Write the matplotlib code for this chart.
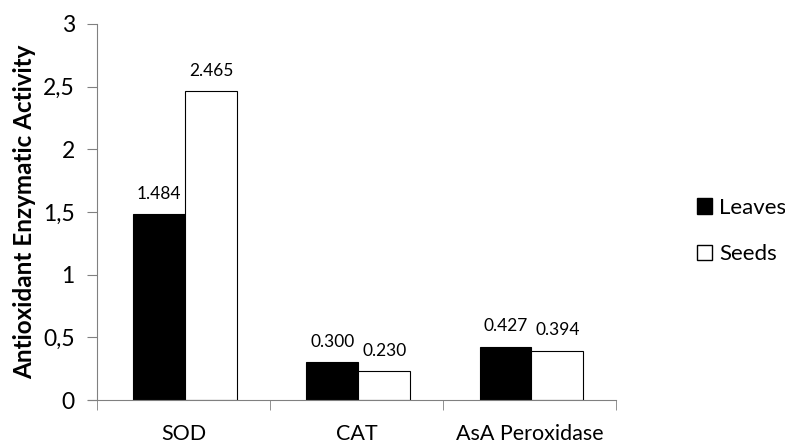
import matplotlib.pyplot as plt
import numpy as np
from matplotlib.patches import Patch

categories = ['SOD', 'CAT', 'AsA Peroxidase']
leaves = [1.484, 0.300, 0.427]
seeds = [2.465, 0.230, 0.394]
yticks = [0, 0.5, 1, 1.5, 2, 2.5, 3]
ytick_labels = ['0', '0,5', '1', '1,5', '2', '2,5', '3']

plt.rcParams['font.family'] = ['Lato', 'DejaVu Sans']

fig = plt.figure(figsize=(7.85, 4.44), dpi=100)
ax = fig.add_axes([0.1236, 0.099, 0.785 - 0.1236, 0.847])

x = np.arange(len(categories))
w = 0.3
b1 = ax.bar(x - w / 2 + 0.01, leaves, w, color='black', edgecolor='black', linewidth=0.8, label='Leaves')
b2 = ax.bar(x + w / 2 + 0.01, seeds, w, color='white', edgecolor='black', linewidth=0.8, label='Seeds')

for bars, vals in ((b1, leaves), (b2, seeds)):
    for r, v in zip(bars, vals):
        ax.annotate('{:.3f}'.format(v), (r.get_x() + r.get_width() / 2, v),
                    xytext=(0, 9), textcoords='offset points',
                    ha='center', va='bottom', fontsize=12.5)

ax.set_xlim(-0.5, 2.5)
ax.set_ylim(0, 3)
ax.set_yticks(yticks)
ax.set_yticklabels(ytick_labels, fontsize=16.5)
ax.set_xticks(x)
ax.set_xticklabels(categories, fontsize=15.5)
ax.tick_params(axis='x', length=0, pad=17)
ax.set_xticks([-0.5, 0.5, 1.5, 2.5], minor=True)
ax.tick_params(axis='x', which='minor', length=7, color='#808080')
ax.tick_params(axis='y', length=7, color='#808080', pad=9)

for s in ['top', 'right']:
    ax.spines[s].set_visible(False)
for s in ['left', 'bottom']:
    ax.spines[s].set_color('#808080')
ax.spines['bottom'].set_bounds(-0.55, 2.5)

ax.set_ylabel('Antioxidant Enzymatic Activity', fontsize=17.5, fontweight='bold', labelpad=5)

handles = [Patch(facecolor='black', edgecolor='black', label='Leaves'),
           Patch(facecolor='white', edgecolor='black', label='Seeds')]
fig.legend(handles=handles, loc='center left', bbox_to_anchor=(0.862, 0.48),
           frameon=False, fontsize=16, handlelength=0.7, handleheight=0.7,
           handletextpad=0.3, labelspacing=1.2)

fig.savefig('out.png', dpi=100)
